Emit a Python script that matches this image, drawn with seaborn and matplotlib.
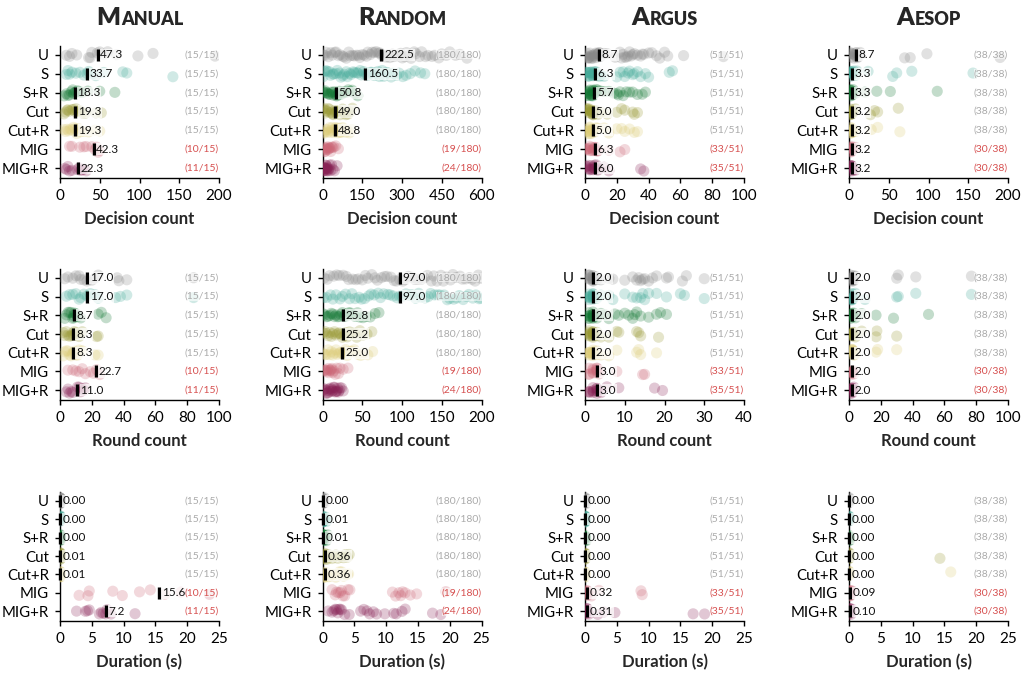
import numpy as np
import pandas as pd
import matplotlib
matplotlib.use("Agg")
import matplotlib.pyplot as plt
import seaborn as sns

np.random.seed(3)

# ---------------------------------------------------------------- data
CATEGORIES = ["U", "S", "S+R", "Cut", "Cut+R", "MIG", "MIG+R"]
COLORS = ["#888888", "#44AA99", "#117733", "#999933", "#DDCC77", "#CC6677", "#882255"]
TOOLS = ["Manual", "Random", "Argus", "Aesop"]
TITLE_PARTS = [("M", "ANUAL"), ("R", "ANDOM"), ("A", "RGUS"), ("A", "ESOP")]
METRICS = ["Decision count", "Round count", "Duration (s)"]

DEC_TICKS = {"Manual": [0, 50, 100, 150, 200], "Random": [0, 150, 300, 450, 600],
             "Argus": [0, 20, 40, 60, 80, 100], "Aesop": [0, 50, 100, 150, 200]}
ROUND_TICKS = {"Manual": [0, 20, 40, 60, 80, 100], "Random": [0, 50, 100, 150, 200],
               "Argus": [0, 10, 20, 30, 40], "Aesop": [0, 20, 40, 60, 80, 100]}
DUR_TICKS = {"Manual": [0, 5, 10, 15, 20, 25], "Random": [0, 5, 10, 15, 20, 25],
             "Argus": [0, 5, 10, 15, 20, 25], "Aesop": [0, 5, 10, 15, 20, 25]}

SUCCESS = {"Manual": [15, 15, 15, 15, 15, 10, 11],
           "Random": [180, 180, 180, 180, 180, 19, 24],
           "Argus": [51, 51, 51, 51, 51, 33, 35],
           "Aesop": [38, 38, 38, 38, 38, 30, 30]}
TOTAL = {"Manual": 15, "Random": 180, "Argus": 51, "Aesop": 38}

# medians (None = not shown)
MANUAL_DEC_MED = [47.3, 33.7, 18.3, 19.3, 19.3, 42.3, 22.3]
MANUAL_ROUND_MED = [17.0, 17.0, 8.7, 8.3, 8.3, 22.7, 11.0]
MANUAL_DUR_MED = [0.00, 0.00, 0.00, 0.01, 0.01, 15.6, 7.2]
RANDOM_DEC_MED = [222.5, 160.5, 50.8, 49.0, 48.8, None, None]
RANDOM_ROUND_MED = [97.0, 97.0, 25.8, 25.2, 25.0, None, None]
RANDOM_DUR_MED = [0.00, 0.01, 0.01, 0.36, 0.36, None, None]
ARGUS_DEC_MED = [8.7, 6.3, 5.7, 5.0, 5.0, 6.3, 6.0]
ARGUS_ROUND_MED = [2.0, 2.0, 2.0, 2.0, 2.0, 3.0, 3.0]
ARGUS_DUR_MED = [0.00, 0.00, 0.00, 0.00, 0.00, 0.32, 0.31]
AESOP_DEC_MED = [8.7, 3.3, 3.3, 3.2, 3.2, 3.2, 3.2]
AESOP_ROUND_MED = [2.0, 2.0, 2.0, 2.0, 2.0, 2.0, 2.0]
AESOP_DUR_MED = [0.00, 0.00, 0.00, 0.00, 0.00, 0.09, 0.10]

# individual runs
MANUAL_DEC = {
    "U": [8, 12, 15, 21, 36, 38, 40, 47, 50, 55, 60, 71, 98, 117, 195],
    "S": [8, 10, 12, 15, 20, 25, 30, 34, 36, 40, 45, 55, 79, 84, 142],
    "S+R": [5, 8, 10, 12, 14, 16, 17, 18, 20, 22, 25, 28, 35, 50, 69],
    "Cut": [5, 7, 9, 10, 12, 15, 17, 19, 20, 22, 25, 28, 32, 45, 52],
    "Cut+R": [5, 7, 9, 11, 13, 15, 17, 19, 21, 23, 26, 30, 36, 44, 50],
    "MIG": [12, 15, 25, 30, 33, 40, 44, 46, 48, 50],
    "MIG+R": [6, 8, 10, 12, 15, 22, 24, 26, 28, 30, 33],
}
MANUAL_ROUND = {
    "U": [3, 5, 8, 10, 12, 13, 15, 17, 20, 22, 24, 36, 37, 42, 84],
    "S": [4, 6, 8, 10, 12, 13, 15, 17, 19, 22, 24, 35, 38, 42, 84],
    "S+R": [3, 4, 5, 6, 7, 8, 8.5, 8.7, 9, 10, 11, 13, 24, 26, 29],
    "Cut": [2, 3, 4, 5, 6, 7, 8, 8.3, 9, 10, 11, 12, 14, 23, 24],
    "Cut+R": [2, 3, 4, 5, 6, 7, 8, 8.3, 9, 10, 11, 12, 14, 22, 24],
    "MIG": [5, 8, 10, 12, 14, 16, 19, 21, 23, 25],
    "MIG+R": [4, 5, 6, 7, 8, 11, 12, 13, 14, 15, 16],
}
MANUAL_DUR = {
    "U": [0.0, 0.0, 0.0, 0.0, 0.0, 0.0, 0.0, 0.01, 0.01, 0.01, 0.01, 0.02, 0.02, 0.03, 0.05],
    "S": [0.0, 0.0, 0.0, 0.0, 0.0, 0.0, 0.0, 0.0, 0.01, 0.01, 0.01, 0.02, 0.02, 0.03, 0.05],
    "S+R": [0.0, 0.0, 0.0, 0.0, 0.0, 0.0, 0.0, 0.0, 0.01, 0.01, 0.01, 0.02, 0.02, 0.03, 0.05],
    "Cut": [0.0, 0.0, 0.0, 0.01, 0.01, 0.01, 0.01, 0.01, 0.01, 0.02, 0.02, 0.02, 0.03, 0.04, 0.06],
    "Cut+R": [0.0, 0.0, 0.0, 0.01, 0.01, 0.01, 0.01, 0.01, 0.01, 0.02, 0.02, 0.02, 0.03, 0.04, 0.06],
    "MIG": [3.0, 4.4, 4.6, 8.3, 9.8, 12.5, 14.2, 16.5, 19.0, 23.5],
    "MIG+R": [2.6, 4.0, 4.3, 4.6, 6.2, 6.5, 6.8, 7.2, 7.4, 8.0, 11.8],
}
RANDOM_DEC = {
    "U": [3, 9, 14, 22, 31, 37, 46, 51, 60, 67, 76, 81, 90, 99, 104, 113, 119, 128, 136, 141,
          150, 157, 166, 171, 181, 187, 196, 202, 211, 217, 223, 233, 239, 248, 254, 264, 269,
          279, 285, 295, 301, 311, 317, 327, 334, 346, 353, 366, 374, 389, 398, 413, 423, 439,
          450, 467, 480, 502, 518, 545],
    "S": [2, 7, 13, 18, 26, 30, 39, 43, 51, 56, 64, 69, 77, 81, 90, 94, 103, 107, 116, 120,
          129, 133, 142, 146, 155, 159, 167, 172, 181, 186, 195, 200, 209, 215, 225, 231, 241,
          248, 259, 267, 279, 289, 303, 315, 331, 349, 370, 386],
    "S+R": [2, 5, 9, 14, 17, 22, 25, 30, 33, 38, 41, 46, 49, 53, 56, 61, 64, 69, 73, 79, 84,
            91, 97, 105, 112, 123, 133],
    "Cut": [2, 6, 9, 14, 17, 22, 25, 30, 33, 38, 41, 46, 49, 54, 57, 62, 66, 72, 76, 83, 88,
            96, 103, 113],
    "Cut+R": [2, 6, 10, 13, 18, 21, 26, 29, 34, 37, 42, 45, 49, 53, 58, 61, 66, 70, 76, 81,
              88, 94, 102, 110],
    "MIG": [3, 6, 8, 10, 12, 14, 16, 18, 20, 22, 24, 26, 29, 31, 35, 38, 43, 50, 60],
    "MIG+R": [2, 4, 5, 7, 8, 9, 10, 11, 12, 13, 14, 15, 16, 17, 18, 20, 22, 24, 27, 30, 34,
              39, 45, 55],
}
RANDOM_ROUND = {
    "U": [2, 6, 9, 14, 18, 21, 26, 30, 33, 38, 42, 45, 50, 54, 57, 62, 66, 69, 74, 78, 81, 86,
          90, 93, 97, 101, 104, 108, 113, 116, 120, 125, 128, 132, 137, 140, 144, 149, 152, 156,
          161, 164, 168, 173, 176, 180, 185, 188, 192, 196, 199],
    "S": [1, 5, 10, 13, 17, 22, 25, 29, 34, 37, 41, 46, 49, 53, 58, 61, 65, 70, 73, 77, 82, 85,
          89, 94, 97, 100, 105, 109, 112, 117, 121, 124, 129, 133, 136, 141, 145, 148, 153, 157,
          160, 165, 169, 172, 177, 181, 184, 189, 193, 197, 199],
    "S+R": [1, 3, 5, 7, 9, 11, 13, 15, 17, 19, 21, 23, 25, 27, 29, 31, 33, 35, 38, 41, 44, 47,
            51, 55, 60, 66, 71],
    "Cut": [1, 3, 5, 7, 9, 11, 13, 15, 17, 19, 21, 23, 25, 27, 29, 31, 34, 37, 40, 43, 47, 51,
            56, 62],
    "Cut+R": [1, 3, 5, 7, 9, 11, 13, 15, 17, 19, 21, 23, 25, 27, 29, 31, 34, 37, 40, 44, 48,
              52, 57, 63],
    "MIG": [2, 3, 4, 5, 6, 7, 8, 9, 10, 11, 12, 13, 14, 16, 18, 20, 22, 26, 32],
    "MIG+R": [1, 2, 3, 4, 5, 6, 7, 8, 9, 10, 11, 12, 13, 14, 15, 16, 17, 18, 19, 20, 21, 22,
              24, 26],
}
RANDOM_DUR = {
    "U": [0.0, 0.0, 0.0, 0.0, 0.0, 0.0, 0.0, 0.0, 0.0, 0.0, 0.01, 0.01, 0.01, 0.02, 0.02,
          0.03, 0.04, 0.05, 0.07, 0.1, 0.15, 0.2, 0.3, 0.45],
    "S": [0.0, 0.0, 0.0, 0.0, 0.0, 0.01, 0.01, 0.01, 0.01, 0.01, 0.02, 0.02, 0.03, 0.04, 0.05,
          0.07, 0.1, 0.15, 0.2, 0.3, 0.45, 0.6, 0.8],
    "S+R": [0.0, 0.0, 0.0, 0.0, 0.0, 0.01, 0.01, 0.01, 0.01, 0.01, 0.02, 0.02, 0.03, 0.04,
            0.05, 0.07, 0.1, 0.15, 0.2, 0.3, 0.45, 0.6, 0.8],
    "Cut": [0.0, 0.05, 0.1, 0.15, 0.2, 0.25, 0.3, 0.33, 0.36, 0.4, 0.5, 0.7, 0.9, 1.2, 1.5,
            1.8, 2.1, 2.4, 2.7, 3.0, 3.3, 3.6, 3.9, 4.2],
    "Cut+R": [0.0, 0.05, 0.1, 0.15, 0.2, 0.25, 0.3, 0.33, 0.36, 0.4, 0.5, 0.7, 0.9, 1.2, 1.5,
              1.8, 2.1, 2.4, 2.7, 3.0, 3.3, 3.6, 3.9, 4.1],
    "MIG": [1.5, 2.0, 2.2, 2.5, 2.8, 3.0, 3.2, 3.5, 4.0, 4.3, 11.0, 11.5, 12.0, 12.3, 12.6,
            13.0, 13.8, 14.8, 19.4],
    "MIG+R": [0.9, 1.5, 1.8, 2.0, 2.2, 2.4, 2.6, 2.8, 3.0, 3.5, 4.2, 6.0, 6.5, 7.0, 7.4, 8.0,
              8.5, 9.8, 11.2, 11.6, 12.5, 13.0, 17.3, 18.6],
}
ARGUS_DEC = {
    "U": [1, 1, 2, 2, 2, 3, 3, 3, 4, 4, 5, 5, 5, 6, 6, 7, 7, 8, 8, 8, 9, 9, 10, 12, 14, 19, 22,
          23, 24, 25, 26, 27, 28, 29, 30, 31, 33, 35, 36, 37, 40, 42, 45, 47, 50, 52, 62, 87],
    "S": [1, 1, 2, 2, 2, 3, 3, 3, 4, 4, 4, 5, 5, 5, 6, 6, 6, 7, 7, 8, 9, 10, 12, 20, 22, 24,
          25, 27, 28, 30, 31, 33, 35, 38, 40, 53, 55],
    "S+R": [1, 1, 2, 2, 2, 3, 3, 3, 4, 4, 4, 5, 5, 5, 5, 6, 6, 7, 7, 8, 10, 12, 15, 18, 20,
            21, 22, 24, 26, 28, 30, 33, 36, 38],
    "Cut": [1, 1, 2, 2, 2, 3, 3, 3, 4, 4, 4, 5, 5, 5, 5, 6, 6, 7, 8, 10, 14, 20, 23, 25, 30,
            31, 33],
    "Cut+R": [1, 1, 2, 2, 2, 3, 3, 3, 4, 4, 4, 5, 5, 5, 5, 6, 6, 7, 8, 12, 15, 20, 23, 25,
              28, 31, 33],
    "MIG": [1, 1, 2, 2, 3, 3, 4, 4, 5, 5, 6, 6, 6, 7, 7, 8, 8, 15, 22, 25],
    "MIG+R": [1, 1, 2, 2, 3, 3, 4, 4, 5, 5, 6, 6, 6, 7, 7, 8, 9, 12, 15, 35, 37],
}
ARGUS_ROUND = {
    "U": [1, 1, 1, 1, 1, 1, 2, 2, 2, 2, 2, 2, 2, 2, 3, 3, 4, 6, 7, 10, 12, 13, 13.5, 14, 14.5,
          15, 16, 17, 18, 20.5, 21, 24.5, 25.5, 30],
    "S": [1, 1, 1, 1, 1, 1, 2, 2, 2, 2, 2, 2, 2, 2, 3, 3, 4, 6, 7, 10, 12, 13, 14, 14.5, 15,
          16, 18, 20.5, 24, 25, 30],
    "S+R": [1, 1, 1, 1, 1, 1, 2, 2, 2, 2, 2, 2, 2, 2, 3, 3, 4, 5, 6, 7.5, 8.5, 10, 11, 12,
            12.5, 13, 14, 16, 18, 19, 20.5],
    "Cut": [1, 1, 1, 1, 1, 1, 2, 2, 2, 2, 2, 2, 2, 2, 3, 3, 4, 6, 8, 8.5, 13, 13.5, 14, 18.5],
    "Cut+R": [1, 1, 1, 1, 1, 1, 2, 2, 2, 2, 2, 2, 2, 2, 3, 3, 4, 6, 8, 13, 13.5, 14, 18],
    "MIG": [1, 1, 1, 2, 2, 2, 2, 3, 3, 3, 3, 3, 3.5, 4, 8, 14.5, 15],
    "MIG+R": [1, 1, 1, 2, 2, 2, 2, 3, 3, 3, 3, 3, 3.5, 4, 5.5, 8.5, 17.5, 19.5],
}
ARGUS_DUR = {
    "U": [0.0, 0.0, 0.0, 0.0, 0.0, 0.0, 0.0, 0.0, 0.01, 0.01, 0.02, 0.05, 0.1, 0.2],
    "S": [0.0, 0.0, 0.0, 0.0, 0.0, 0.0, 0.0, 0.0, 0.01, 0.01, 0.02, 0.05, 0.1, 0.2],
    "S+R": [0.0, 0.0, 0.0, 0.0, 0.0, 0.0, 0.0, 0.0, 0.01, 0.01, 0.02, 0.05, 0.1, 0.2],
    "Cut": [0.0, 0.0, 0.0, 0.0, 0.0, 0.0, 0.0, 0.0, 0.01, 0.01, 0.02, 0.05, 0.1],
    "Cut+R": [0.0, 0.0, 0.0, 0.0, 0.0, 0.0, 0.0, 0.0, 0.01, 0.01, 0.02, 0.05, 0.1],
    "MIG": [0.05, 0.1, 0.15, 0.2, 0.25, 0.3, 0.32, 0.35, 0.4, 0.5, 1.0, 2.2, 8.8, 9.0],
    "MIG+R": [0.05, 0.1, 0.15, 0.2, 0.25, 0.3, 0.31, 0.35, 0.4, 0.6, 2.0, 3.0, 4.7, 17.0, 18.8],
}
AESOP_DEC = {
    "U": [1, 2, 3, 4, 5, 6, 7, 8, 8.7, 9, 10, 12, 14, 70, 77, 98, 190],
    "S": [1, 1, 2, 2, 3, 3, 3, 4, 4, 5, 6, 8, 10, 24, 55, 60, 79, 156],
    "S+R": [1, 1, 2, 2, 3, 3, 3, 4, 4, 5, 6, 8, 20, 35, 52, 111],
    "Cut": [1, 1, 2, 2, 3, 3, 3, 4, 4, 5, 6, 8, 27, 32, 36, 62],
    "Cut+R": [1, 1, 2, 2, 3, 3, 3, 4, 4, 5, 6, 8, 28, 36, 64],
    "MIG": [1, 1, 2, 2, 3, 3, 3, 4, 4, 5, 6, 8],
    "MIG+R": [1, 1, 2, 2, 3, 3, 3, 4, 4, 5, 6, 8],
}
AESOP_ROUND = {
    "U": [1, 1, 2, 2, 2, 2, 2, 2, 3, 3, 4, 30, 31, 42, 77],
    "S": [1, 1, 2, 2, 2, 2, 2, 2, 3, 3, 4, 10, 30, 31, 42, 77],
    "S+R": [1, 1, 2, 2, 2, 2, 2, 2, 3, 3, 4, 8, 17, 28, 50],
    "Cut": [1, 1, 2, 2, 2, 2, 2, 2, 3, 3, 4, 8, 17, 17.5, 30],
    "Cut+R": [1, 1, 2, 2, 2, 2, 2, 2, 3, 3, 4, 17, 18, 30],
    "MIG": [1, 1, 2, 2, 2, 2, 2, 2, 3, 3],
    "MIG+R": [1, 1, 2, 2, 2, 2, 2, 2, 3, 3],
}
AESOP_DUR = {
    "U": [0.0, 0.0, 0.0, 0.0, 0.0, 0.0, 0.01, 0.02, 0.05, 0.1],
    "S": [0.0, 0.0, 0.0, 0.0, 0.0, 0.0, 0.01, 0.02, 0.05, 0.1],
    "S+R": [0.0, 0.0, 0.0, 0.0, 0.0, 0.0, 0.01, 0.02, 0.05, 0.1],
    "Cut": [0.0, 0.0, 0.0, 0.0, 0.0, 0.0, 0.01, 0.02, 0.05, 14.3],
    "Cut+R": [0.0, 0.0, 0.0, 0.0, 0.0, 0.0, 0.01, 0.02, 0.05, 16.0],
    "MIG": [0.02, 0.05, 0.08, 0.09, 0.1, 0.15, 0.2, 0.3, 0.5],
    "MIG+R": [0.02, 0.05, 0.08, 0.1, 0.1, 0.15, 0.2, 0.3, 0.5],
}

PANELS = {
    ("Manual", 0): (MANUAL_DEC, MANUAL_DEC_MED, DEC_TICKS),
    ("Manual", 1): (MANUAL_ROUND, MANUAL_ROUND_MED, ROUND_TICKS),
    ("Manual", 2): (MANUAL_DUR, MANUAL_DUR_MED, DUR_TICKS),
    ("Random", 0): (RANDOM_DEC, RANDOM_DEC_MED, DEC_TICKS),
    ("Random", 1): (RANDOM_ROUND, RANDOM_ROUND_MED, ROUND_TICKS),
    ("Random", 2): (RANDOM_DUR, RANDOM_DUR_MED, DUR_TICKS),
    ("Argus", 0): (ARGUS_DEC, ARGUS_DEC_MED, DEC_TICKS),
    ("Argus", 1): (ARGUS_ROUND, ARGUS_ROUND_MED, ROUND_TICKS),
    ("Argus", 2): (ARGUS_DUR, ARGUS_DUR_MED, DUR_TICKS),
    ("Aesop", 0): (AESOP_DEC, AESOP_DEC_MED, DEC_TICKS),
    ("Aesop", 1): (AESOP_ROUND, AESOP_ROUND_MED, ROUND_TICKS),
    ("Aesop", 2): (AESOP_DUR, AESOP_DUR_MED, DUR_TICKS),
}

# ---------------------------------------------------------------- style
sns.set_theme(style="ticks")
FONT = ["Lato", "DejaVu Sans"]
plt.rcParams["font.family"] = FONT
plt.rcParams.update({
    "axes.edgecolor": "black", "axes.linewidth": 1.0,
    "xtick.color": "black", "ytick.color": "black",
    "xtick.major.size": 3.5, "ytick.major.size": 3.5,
    "xtick.major.width": 1.0, "ytick.major.width": 1.0,
    "xtick.major.pad": 4.5, "ytick.major.pad": 4.5,
    "xtick.labelsize": 11, "ytick.labelsize": 10.8,
})

W, H = 1027, 677
fig = plt.figure(figsize=(W / 100, H / 100), dpi=100)
LEFTS = [60, 322.5, 585, 849]
AX_W = 159
ROWS = [(45.5, 177.5), (268.5, 399.5), (491.5, 620.5)]
GRAY_TXT = "#aaaaaa"
RED_TXT = "#d64f4f"


def fmt(v):
    return f"{v:.1f}" if v >= 1 else f"{v:.2f}"


for ci, tool in enumerate(TOOLS):
    for ri, metric in enumerate(METRICS):
        data, med, ticks_map = PANELS[(tool, ri)]
        ticks = ticks_map[tool]
        top, bot = ROWS[ri]
        ax = fig.add_axes([LEFTS[ci] / W, 1 - bot / H, AX_W / W, (bot - top) / H])
        df = pd.DataFrame([(c, v) for c in CATEGORIES for v in data[c]],
                          columns=["cat", "value"])
        sns.stripplot(data=df, x="value", y="cat", hue="cat", order=CATEGORIES,
                      hue_order=CATEGORIES, palette=COLORS, size=8, alpha=0.25,
                      linewidth=0, jitter=0.18, legend=False, ax=ax, orient="h")
        ax.set_xlim(ticks[0], ticks[-1])
        ax.set_xticks(ticks)
        ax.set_ylim(6.5, -0.5)
        ax.set_ylabel("")
        ax.set_xlabel(metric, fontweight="bold", fontsize=12, labelpad=6)
        sns.despine(ax=ax)
        succ = SUCCESS[tool]
        tot = TOTAL[tool]
        for i, c in enumerate(CATEGORIES):
            m = med[i]
            if m is not None:
                ax.scatter([m], [i], marker="|", s=80, linewidths=2.4, color="black",
                           zorder=5, clip_on=False)
                ax.annotate(fmt(m), xy=(m, i), xytext=(2.0, 0), textcoords="offset points",
                            va="center", ha="left", fontsize=8.5, color="#111111",
                            bbox=dict(boxstyle="square,pad=0.05", fc="white", ec="none",
                                      alpha=0.7), zorder=6)
            col = GRAY_TXT if succ[i] == tot else RED_TXT
            ax.text(1.0, i, f"({succ[i]}/{tot})", transform=ax.get_yaxis_transform(),
                    ha="right", va="center", fontsize=7.5, color=col, zorder=6,
                    bbox=dict(boxstyle="square,pad=0.0", fc="white", ec="none", alpha=0.6))

# ---------------------------------------------------------------- small-caps titles
fig.canvas.draw()
renderer = fig.canvas.get_renderer()
for ci, tool in enumerate(TOOLS):
    big, small = TITLE_PARTS[ci]
    t1 = fig.text(0, 0, big, fontsize=18, fontweight="heavy", ha="left", va="baseline")
    t2 = fig.text(0, 0, small, fontsize=13, fontweight="heavy", ha="left", va="baseline")
    w1 = t1.get_window_extent(renderer).width
    w2 = t2.get_window_extent(renderer).width
    cx = LEFTS[ci] + AX_W / 2
    x0 = cx - (w1 + w2) / 2
    ybase = 1 - 25 / H
    t1.set_position((x0 / W, ybase))
    t2.set_position(((x0 + w1 + 0.5) / W, ybase))

fig.savefig("out.png", dpi=100)
